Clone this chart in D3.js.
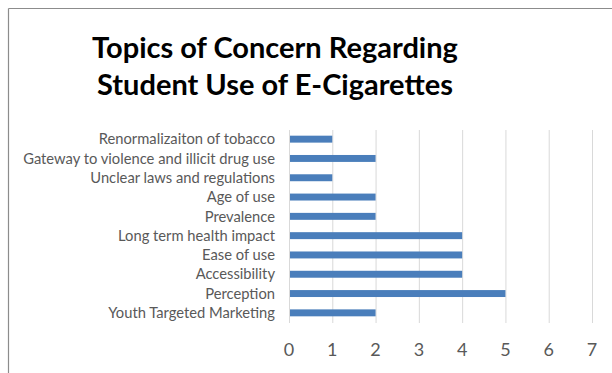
<!DOCTYPE html>
<html>
<head>
<meta charset="utf-8">
<script src="https://cdn.jsdelivr.net/npm/d3@7"></script>
<style>
  html, body { margin: 0; padding: 0; background: #fff; }
  svg { display: block; }
</style>
</head>
<body>
<svg id="chart" width="612" height="373"></svg>
<script>
// Topics raised about student e-cigarette use, listed top to bottom
const categories = [
  "Renormalizaiton of tobacco",
  "Gateway to violence and illicit drug use",
  "Unclear laws and regulations",
  "Age of use",
  "Prevalence",
  "Long term health impact",
  "Ease of use",
  "Accessibility",
  "Perception",
  "Youth Targeted Marketing"
];
const counts = [1, 2, 1, 2, 2, 4, 4, 4, 5, 2];
const xTicks = [0, 1, 2, 3, 4, 5, 6, 7];
const titleLines = ["Topics of Concern Regarding", "Student Use of E-Cigarettes"];

const svg = d3.select("#chart");
const W = 612, H = 373;
const font = "Lato, 'Open Sans', sans-serif";
const textGray = "#595959";

// chart area frame (top and left edges visible)
svg.append("line").attr("x1", 8.5).attr("x2", W).attr("y1", 8.5).attr("y2", 8.5)
  .attr("stroke", "#8c8c8c").attr("stroke-width", 1.2);
svg.append("line").attr("x1", 8.5).attr("x2", 8.5).attr("y1", 8.5).attr("y2", H)
  .attr("stroke", "#8c8c8c").attr("stroke-width", 1.2);

// title, sized to span its line width
const title = svg.append("g");
const titleY = [58, 95];
titleLines.forEach((t, i) => {
  const el = title.append("text")
    .attr("x", 275).attr("y", titleY[i])
    .attr("text-anchor", "middle")
    .attr("font-family", font).attr("font-weight", "bold")
    .attr("font-size", 24).attr("fill", "#000")
    .text(t);
  const target = i === 0 ? 366 : 356;
  const w = el.node().getComputedTextLength();
  el.attr("font-size", 24 * target / w);
});

const x = d3.scaleLinear().domain([0, 7]).range([289, 592]);
const y = d3.scaleBand().domain(categories).range([129.5, 322.5]).paddingInner(0.64).paddingOuter(0.32);

// vertical gridlines
svg.append("g").selectAll("line").data(xTicks).join("line")
  .attr("x1", d => x(d) + 0.5).attr("x2", d => x(d) + 0.5)
  .attr("y1", 130).attr("y2", 323)
  .attr("stroke", "#d9d9d9").attr("stroke-width", 1);

// bars
svg.append("g").selectAll("rect").data(categories).join("rect")
  .attr("x", x(0) + 1)
  .attr("y", d => y(d))
  .attr("width", (d, i) => x(counts[i]) - x(0) - 1)
  .attr("height", y.bandwidth())
  .attr("fill", "#4a7ebb");

// category labels
const labels = svg.append("g").selectAll("text").data(categories).join("text")
  .attr("x", 275)
  .attr("y", d => y(d) + y.bandwidth() / 2)
  .attr("dy", "0.35em")
  .attr("text-anchor", "end")
  .attr("font-family", font).attr("font-size", 11)
  .attr("fill", textGray)
  .text(d => d);
const longest = d3.max(labels.nodes(), n => n.getComputedTextLength());
labels.attr("font-size", 11 * 252 / longest);

// value axis tick labels
svg.append("g").selectAll("text").data(xTicks).join("text")
  .attr("x", d => x(d))
  .attr("y", 350)
  .attr("dy", "0.35em")
  .attr("text-anchor", "middle")
  .attr("font-family", font).attr("font-size", 18)
  .attr("fill", textGray)
  .text(d => d);
</script>
</body>
</html>
